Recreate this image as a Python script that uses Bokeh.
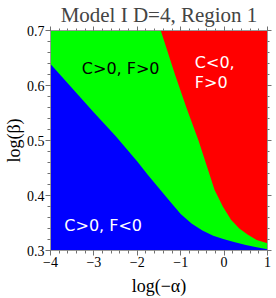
from bokeh.plotting import figure
from bokeh.models import LinearAxis, FixedTicker, Range1d
from bokeh.core.properties import value
from bokeh.embed import file_html
from bokeh.resources import INLINE

# Region boundaries
blue_x = [-4.0, -3.5, -3.0, -2.5, -2.0, -1.75, -1.5, -1.25, -1.0, -0.75, -0.5, -0.25,
          0.0, 0.25, 0.5, 0.75, 1.0]
blue_y = [0.639, 0.595, 0.551, 0.508, 0.462, 0.437, 0.413, 0.3895, 0.3665, 0.349, 0.3365,
          0.327, 0.3203, 0.3148, 0.310, 0.306, 0.3025]
red_x = [-1.46, -1.13, -0.866, -0.59, -0.219, -0.03, 0.159, 0.35, 0.54, 0.75, 1.0]
red_y = [0.700, 0.6195, 0.559, 0.500, 0.410, 0.380, 0.356, 0.340, 0.329, 0.319, 0.313]

x_ticks = [-4, -3, -2, -1, 0, 1]
x_tick_labels = ["\u22124", "\u22123", "\u22122", "\u22121", "0", "1"]
y_ticks = [0.3, 0.4, 0.5, 0.6, 0.7]
x_lim = (-4.0, 1.0)
y_lim = (0.3, 0.7)

GREEN, BLUE, RED = "#00ff00", "#0000ff", "#ff0000"
SERIF = "Liberation Serif"
SANS = "DejaVu Sans"
LINE = "#9a9a9a"
TICK = "#707070"

p = figure(width=273, height=298, x_range=Range1d(*x_lim), y_range=Range1d(*y_lim),
           output_backend="svg", toolbar_location=None,
           min_border_left=43, min_border_right=6, min_border_top=0, min_border_bottom=0,
           title="Model I D=4, Region 1")
p.background_fill_color = GREEN
p.border_fill_color = "white"
p.outline_line_color = LINE
p.grid.visible = False

p.title.text_font = SERIF
p.title.text_font_size = "21px"
p.title.text_font_style = "normal"
p.title.align = "center"
p.title.standoff = 0

# blue region (below lower boundary)
p.patch(blue_x + [x_lim[1], x_lim[0]], blue_y + [y_lim[0], y_lim[0]],
        fill_color=BLUE, line_color=None)
# red region (right of upper boundary)
p.patch(red_x + [x_lim[1]], red_y + [y_lim[1]], fill_color=RED, line_color=None)

# region labels
p.text(x=[-2.383], y=[0.6316], text=["C>0, F>0"], text_color="black",
       text_font=value(SANS), text_font_size="16px", text_align="center",
       text_baseline="alphabetic")
p.text(x=[-2.786], y=[0.345], text=["C>0, F<0"], text_color="white",
       text_font=value(SANS), text_font_size="16px", text_align="center",
       text_baseline="alphabetic")
p.text(x=[-0.674, -0.674], y=[0.6418, 0.6062], text=["C<0,", "F>0"], text_color="white",
       text_font=value(SANS), text_font_size="16px", text_align="left",
       text_baseline="alphabetic")

xminor = [round(-4 + 0.2 * i, 2) for i in range(26)]
yminor = [round(0.3 + 0.02 * i, 2) for i in range(21)]
xt = FixedTicker(ticks=x_ticks, minor_ticks=xminor)
yt = FixedTicker(ticks=y_ticks, minor_ticks=yminor)


def style(ax, labels=True):
    ax.axis_line_color = LINE
    ax.major_tick_line_color = TICK
    ax.minor_tick_line_color = TICK
    ax.major_tick_out = 5 if labels else 4
    ax.major_tick_in = 0
    ax.minor_tick_out = 3 if labels else 2
    ax.minor_tick_in = 0
    ax.major_label_text_font = SERIF
    ax.major_label_text_color = "black" if labels else None
    ax.major_label_text_font_size = "14px" if labels else "0px"
    ax.major_label_standoff = 1 if labels else 0
    ax.axis_label_text_font = SERIF
    ax.axis_label_text_font_size = "18px"
    ax.axis_label_text_font_style = "normal"
    ax.axis_label_text_color = "black"
    ax.axis_label_standoff = 0


xa = p.xaxis[0]
xa.ticker = xt
xa.major_label_overrides = {t: l for t, l in zip(x_ticks, x_tick_labels)}
xa.axis_label = "log(\u2212\u03b1)"
style(xa)
xa.axis_label_standoff = 6

ya = p.yaxis[0]
ya.ticker = yt
ya.axis_label = "log(\u03b2)"
style(ya)

top = LinearAxis(ticker=xt)
style(top, labels=False)
p.add_layout(top, "above")
right = LinearAxis(ticker=yt)
style(right, labels=False)
p.add_layout(right, "right")

open("out.html", "w").write(file_html(p, INLINE))
